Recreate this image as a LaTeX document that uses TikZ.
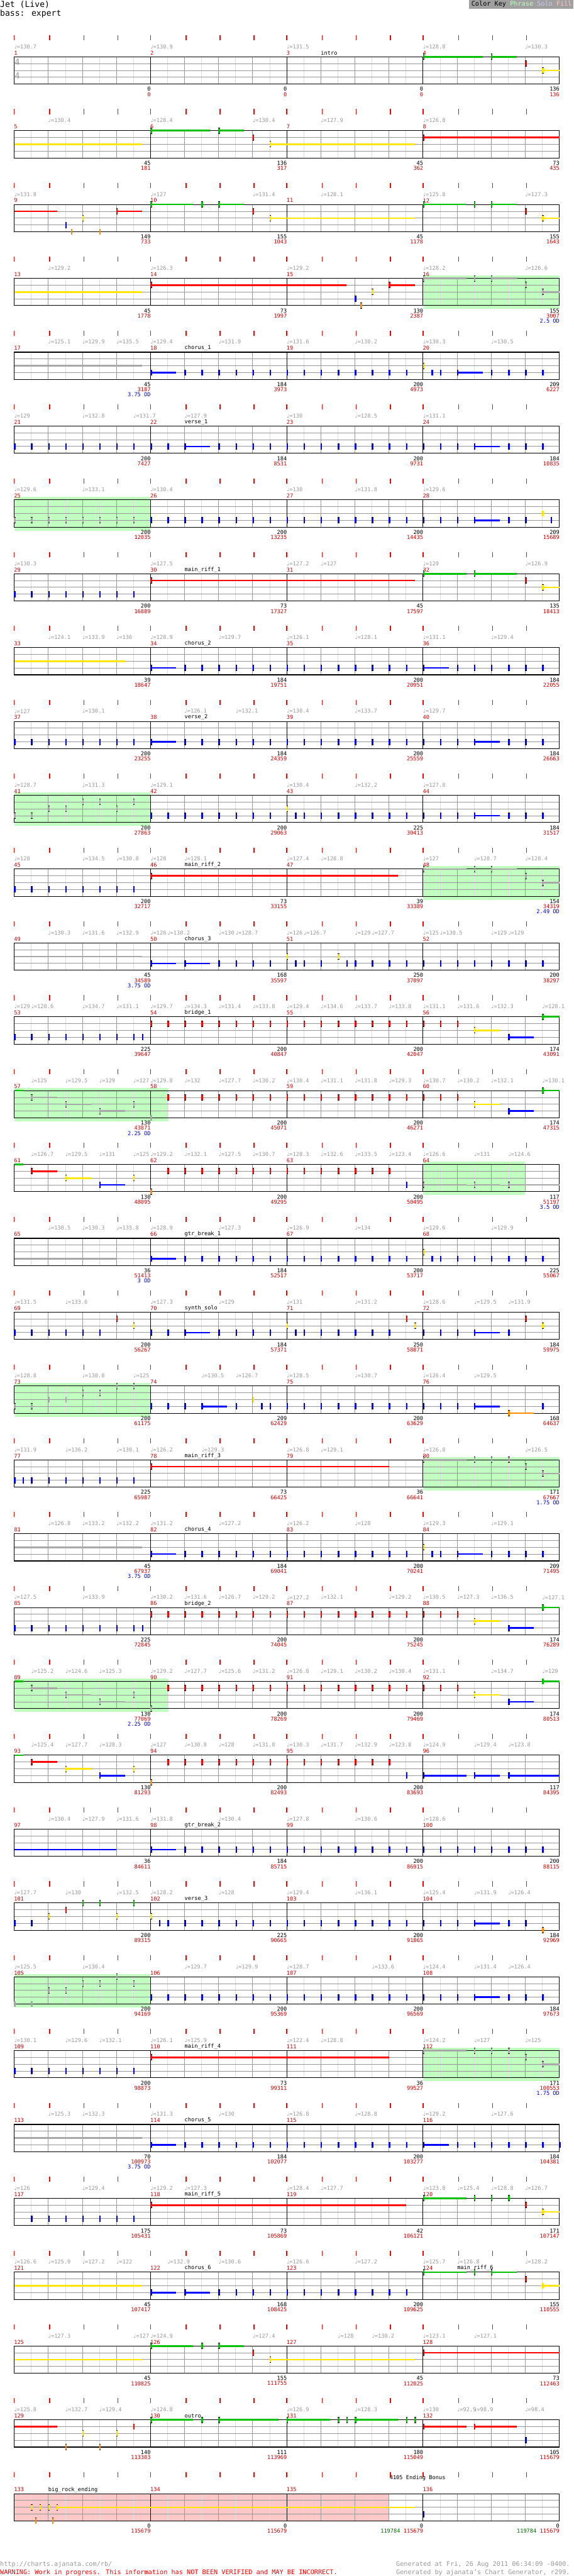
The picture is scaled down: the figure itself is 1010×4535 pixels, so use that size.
\documentclass[tikz,border=0pt]{standalone}
\usepackage{fontspec}
\setmainfont{DejaVu Sans Mono}
\newfontfamily\notefont{DejaVu Sans}

\definecolor{lane1}{HTML}{00C000}
\definecolor{lane2}{HTML}{FF0000}
\definecolor{lane3}{HTML}{FFE600}
\definecolor{lane4}{HTML}{0000FF}
\definecolor{lane5}{HTML}{FF8C00}
\definecolor{ngray}{HTML}{A8A8A8}
\definecolor{phrasegreen}{HTML}{C0FFC0}
\definecolor{solopurple}{HTML}{C8C8FF}
\definecolor{fillpink}{HTML}{FFC8C8}
\definecolor{tickred}{HTML}{FF0000}
\definecolor{numred}{HTML}{CC0000}
\definecolor{tempogray}{HTML}{999999}
\definecolor{gridmid}{HTML}{999999}
\definecolor{gridlight}{HTML}{DDDDDD}
\definecolor{odblue}{HTML}{0000CC}
\definecolor{bonusgreen}{HTML}{006600}
\definecolor{keygray}{HTML}{A0A0A0}

\newcommand\fs[1]{\fontsize{#1}{#1}\selectfont}
\newcommand\qn{{\notefont\char"2669}}

\tikzset{
  beattick/.style={draw=tickred,line width=1.6pt},
  halfline/.style={draw=gridlight,line width=.8pt},
  beatline/.style={draw=gridmid,line width=1pt},
  stringline/.style={draw=gridmid,line width=1pt},
  barline/.style={draw=black,line width=1pt},
  staffbox/.style={draw=black,line width=1.2pt},
  tempo/.style={anchor=west,inner sep=0pt,text=tempogray,font=\fs{9.6}},
  measnum/.style={anchor=west,inner sep=0pt,text=numred,font=\fs{9.6}},
  sectname/.style={anchor=west,inner sep=0pt,font=\fs{9.6}},
  cnt/.style={anchor=east,inner sep=0pt,font=\fs{9.6}},
  score/.style={cnt,text=numred},
  odtxt/.style={cnt,text=odblue},
  timesig/.style={inner sep=0pt,text=tempogray,font=\fs{15}},
  phrasebg/.style={fill=phrasegreen},
  fillbg/.style={fill=fillpink},
}

% one staff row: ticks, grid, measure numbers
\newcommand\staff[1]{%
  \foreach \tb in {0,...,15}{%
    \pgfmathsetmacro\tx{25+60*\tb+(mod(\tb,4)==0?0:2.5)}%
    \draw[beattick] (\tx,62) -- (\tx,71);}%
  \foreach \hb in {0.5,1.5,...,15.5}
    \draw[halfline] ({25+60*\hb},100) -- ({25+60*\hb},148);%
  \foreach \sb in {1,2,3,5,6,7,9,10,11,13,14,15}
    \draw[beatline] ({25+60*\sb},100) -- ({25+60*\sb},148);%
  \foreach \sl in {2,3,4}
    \draw[stringline] (25,{88+12*\sl}) -- (985,{88+12*\sl});%
  \foreach \mb in {1,2,3}
    \draw[barline] ({25+240*\mb},100) -- ({25+240*\mb},148);%
  \draw[staffbox] (25,100) rectangle (985,148);%
  \foreach \mi in {0,...,3}{\pgfmathtruncatemacro\mn{#1+\mi}%
    \node[measnum] (m\mn) at ({24.5+240*\mi},93) {\mn};}%
}
\newcommand\tempos[1]{\foreach \tb/\tv [count=\ti] in {#1}
  \node[tempo] (t\rr-\ti) at ({25+60*\tb},82) {\qn=\tv};}
\newcommand\sect[2]{\node[sectname] (s\rr-#1) at ({25+60*#1},93) {#2};}
\newcommand\counts[1]{\foreach \cv/\sv [count=\ci] in {#1}{%
  \node[cnt] (c\rr-\ci) at ({25.5+240*\ci},157) {\cv};
  \node[score] (p\rr-\ci) at ({25.5+240*\ci},166) {\sv};}}
\newcommand\od[2]{\node[odtxt] (o\rr) at ({25.5+240*#1},175) {#2};}
\newcommand\phrase[2]{\fill[phrasebg] ({25+60*#1},95) rectangle ({25+60*#2},154);}

% notes
\newcommand\gem[3]{%
  \fill[black] ({25+60*#1-0.3},{88+12*#2-5.5}) rectangle ++(2.7,11);
  \fill[fill=#3] ({25+60*#1-0.3},{88+12*#2-4.5}) rectangle ++(2.7,9);}
\newcommand\susbar[4]{\fill[fill=#4] ({25+60*#1},{88+12*#3-1.4}) rectangle ({25+60*#2},{88+12*#3+1.4});}
\newcommand\gems[1]{\foreach \nb/\nl in {#1}{\gem{\nb}{\nl}{lane\nl}}}
\newcommand\ggems[1]{\foreach \nb/\nl in {#1}{\gem{\nb}{\nl}{ngray}}}
\newcommand\sus[1]{\foreach \nb/\nl/\nz in {#1}{\susbar{\nb}{\nz}{\nl}{lane\nl}\gem{\nb}{\nl}{lane\nl}}}
\newcommand\gsus[1]{\foreach \nb/\nl/\nz in {#1}{\susbar{\nb}{\nz}{\nl}{ngray}\gem{\nb}{\nl}{ngray}}}
\newcommand\cont[1]{\foreach \nl/\nz in {#1}{\susbar{0}{\nz}{\nl}{lane\nl}}}
\newcommand\gcont[1]{\foreach \nl/\nz in {#1}{\susbar{0}{\nz}{\nl}{ngray}}}
\newcommand\run[3]{\pgfmathtruncatemacro\nn{round((#2-(#1))*2)}%
  \foreach \ii in {0,...,\nn}{\pgfmathsetmacro\nb{#1+0.5*\ii}\gem{\nb}{#3}{lane#3}}}
\newcommand\grun[3]{\pgfmathtruncatemacro\nn{round((#2-(#1))*2)}%
  \foreach \ii in {0,...,\nn}{\pgfmathsetmacro\nb{#1+0.5*\ii}\gem{\nb}{#3}{ngray}}}

\begin{document}
\begin{tikzpicture}[x=1pt,y=-1pt,line cap=butt]
  \useasboundingbox (0,0) rectangle (1010,4535);

  % header
  \node[anchor=west,inner sep=0pt,font=\fs{14.5}] (title) at (0,8) {Jet (Live)};
  \node[anchor=west,inner sep=0pt,font=\fs{14.5}] (part) at (0,24) {bass: expert};
  \fill[keygray] (826,0) rectangle (1010,15.7);
  \node[anchor=west,inner sep=0pt,font=\fs{11.3}] (key) at (830,7.5)
    {Color Key \textcolor{phrasegreen}{Phrase} \textcolor{solopurple}{Solo} \textcolor{fillpink}{Fill}};

  % row 1-4
  \begin{scope}[shift={(0,0)}]\def\rr{0}
    \staff{1}
    \node[timesig] (ts1) at (30.5,109) {4};
    \node[timesig] (ts2) at (30.5,134) {4};
    \tempos{0/130.7,4/130.9,8/131.5,12/128.8,15/130.3}
    \sect{9}{intro}
    \counts{0/0,0/0,0/0,136/136}
    \sus{12/1/13.75,14/1/14.75,15.5/3/16}
    \gems{15/2}
  \end{scope}

  % row 5-8
  \begin{scope}[shift={(0,130)}]\def\rr{1}
    \staff{5}
    \tempos{1/130.4,4/128.4,7/130.4,9/127.9,12/126.8}
    \counts{45/181,136/317,45/362,73/435}
    \cont{3/3.76}
    \sus{4/1/5.75,6/1/6.75,7.5/3/11.77,12/2/16}
    \gems{7/2}
  \end{scope}

  % row 9-12
  \begin{scope}[shift={(0,260)}]\def\rr{2}
    \staff{9}
    \tempos{0/131.8,4/127,7/131.4,9/128.1,12/125.8,15/127.3}
    \counts{149/733,155/1043,45/1178,155/1643}
    \cont{2/1.26}
    \sus{3/2/3.76,4/1/5.25,6/1/6.75,7.5/3/11.77,12/1/13.27,14/1/14.75,15.5/3/16}
    \gems{1.5/4,1.67/5,2/3,2.5/5,5.5/1,7/2,13.5/1,15/2}
  \end{scope}

  % row 13-16
  \begin{scope}[shift={(0,390)}]\def\rr{3}
    \phrase{12}{16}
    \staff{13}
    \tempos{1/129.2,4/126.3,8/129.2,12/128.2,15/126.6}
    \counts{45/1778,73/1997,130/2387,155/3007}
    \od{4}{2.5 OD}
    \cont{3/3.76}
    \sus{4/2/9.76,11/2/11.77}
    \gems{10/4,10.17/5,10.5/3}
    \gsus{12/1/13.27,14/1/14.75,15.5/3/16}
    \ggems{13.5/1,15/2}
  \end{scope}

  % row 17-20
  \begin{scope}[shift={(0,520)}]\def\rr{4}
    \staff{17}
    \tempos{1/125.1,2/129.9,3/135.5,4/129.4,6/131.9,8/131.6,10/130.2,12/130.3,14/130.5}
    \sect{5}{chorus\_1}
    \counts{45/3187,184/3973,200/4973,209/6227}
    \od{1}{3.75 OD}
    \gcont{3/3.76}
    \sus{4/4/4.75,13/4/13.75}
    \run{5}{11.5}{4}\run{14}{15.5}{4}
    \gems{12/3,12.25/4,12.5/4}
  \end{scope}

  % row 21-24
  \begin{scope}[shift={(0,650)}]\def\rr{5}
    \staff{21}
    \tempos{0/129,2/132.8,3.5/131.7,5/127.9,8/130,10/128.5,12/131.1}
    \sect{5}{verse\_1}
    \counts{200/7427,184/8531,200/9731,184/10835}
    \run{0}{4.5}{4}\run{6}{13}{4}\run{14.5}{15.5}{4}
    \sus{5/4/5.75,13.5/4/14.25}
  \end{scope}

  % row 25-28
  \begin{scope}[shift={(0,780)}]\def\rr{6}
    \phrase{0}{4}
    \staff{25}
    \tempos{0/129.6,2/133.1,4/130.4,8/130,10/131.8,12/129.6}
    \counts{200/12035,200/13235,200/14435,209/15689}
    \grun{0}{3.5}{4}
    \run{4}{13}{4}
    \sus{13.5/4/14.25}
    \gems{14.5/4,15/4,15.5/3,15.75/4}
  \end{scope}

  % row 29-32
  \begin{scope}[shift={(0,910)}]\def\rr{7}
    \staff{29}
    \tempos{0/130.3,4/127.5,8/127.2,9/127,12/129,15/126.9}
    \sect{5}{main\_riff\_1}
    \counts{200/16889,73/17327,45/17597,135/18413}
    \run{0}{3.5}{4}
    \sus{4/2/11.77,12/1/13.27,13.5/1/14.75,15.5/3/16}
    \gems{15/2}
  \end{scope}

  % row 33-36
  \begin{scope}[shift={(0,1040)}]\def\rr{8}
    \staff{33}
    \tempos{1/124.1,2/133.9,3/136,4/128.9,6/129.7,8/126.1,10/128.1,12/131.1,14/129.4}
    \sect{5}{chorus\_2}
    \counts{39/18647,184/19751,200/20951,184/22055}
    \cont{3/3.27}
    \sus{4/4/4.75,12/4/12.75}
    \run{5}{11.5}{4}\run{13}{15.5}{4}
  \end{scope}

  % row 37-40
  \begin{scope}[shift={(0,1170)}]\def\rr{9}
    \staff{37}
    \tempos{0/127,2/130.1,5/126.1,6.5/132.1,8/130.4,10/133.7,12/129.7}
    \sect{5}{verse\_2}
    \counts{200/23255,184/24359,200/25559,184/26663}
    \run{0}{3.5}{4}\run{5}{13}{4}\run{14.5}{15.5}{4}
    \sus{4/4/4.75,13.5/4/14.25}
  \end{scope}

  % row 41-44
  \begin{scope}[shift={(0,1300)}]\def\rr{10}
    \phrase{0}{4}
    \staff{41}
    \tempos{0/128.7,2/131.3,4/129.1,8/130.4,10/132.2,12/127.8}
    \counts{200/27863,200/29063,225/30413,184/31517}
    \ggems{0/4,0.5/4,1/3,1.5/3,2/2,2.5/2,3/3,3.5/2}
    \run{4}{7.5}{4}\run{8.5}{13}{4}\run{14.5}{15.5}{4}
    \gems{8/3,8.25/4}
    \sus{13.5/4/14.25}
  \end{scope}

  % row 45-48
  \begin{scope}[shift={(0,1430)}]\def\rr{11}
    \phrase{12}{16}
    \staff{45}
    \tempos{0/128,2/134.5,3/130.8,4/128,5/128.1,8/127.4,9/128.8,12/127,13.5/128.7,15/128.4}
    \sect{5}{main\_riff\_2}
    \counts{200/32717,73/33155,39/33389,154/34319}
    \od{4}{2.49 OD}
    \run{0}{3.5}{4}
    \sus{4/2/11.27}
    \gsus{12/1/13.27,14/1/14.75,15.5/3/16}
    \ggems{13.5/1,15/2}
  \end{scope}

  % row 49-52
  \begin{scope}[shift={(0,1560)}]\def\rr{12}
    \staff{49}
    \tempos{1/130.3,2/131.6,3/132.9,4/126,4.5/130.2,6/130,6.5/128.7,8/126,8.5/126.7,10/129,10.5/127.7,12/125,12.5/130.5,14/129,14.5/129}
    \sect{5}{chorus\_3}
    \counts{45/34589,168/35597,250/37097,200/38297}
    \od{1}{3.75 OD}
    \gcont{3/3.76}
    \sus{4/4/4.75,5/4/5.75}
    \run{6}{7.5}{4}\run{10}{15.5}{4}
    \gems{8/3,8.25/4,8.5/4,9/4,9.5/3,9.75/4}
  \end{scope}

  % row 53-56
  \begin{scope}[shift={(0,1690)}]\def\rr{13}
    \staff{53}
    \tempos{0/129,0.5/128.6,2/134.7,3/131.1,4/129.7,5/134.3,6/131.4,7/133.8,8/129.4,9/134.6,10/133.7,11/133.8,12/131.1,13/131.6,14/132.3,15.5/128.1}
    \sect{5}{bridge\_1}
    \counts{225/39647,200/40847,200/42047,174/43091}
    \run{0}{3.5}{4}\gems{3.75/4}
    \run{4}{13}{2}
    \sus{13.5/3/14.25,14.5/4/15.25,15.5/1/16}
  \end{scope}

  % row 57-60
  \begin{scope}[shift={(0,1820)}]\def\rr{14}
    \phrase{0}{4.52}
    \staff{57}
    \tempos{0.5/125,1.5/129.5,2.5/129,3.5/127,4/129.8,5/132,6/127.7,7/130.2,8/130.4,9/131.1,10/131.8,11/129.3,12/130.7,13/130.2,14/132.1,15.5/130.1}
    \counts{130/43871,200/45071,200/46271,174/47315}
    \od{1}{2.25 OD}
    \cont{1/0.27}
    \gsus{0.5/2/1.26,1.5/3/2.25,2.5/4/3.25}
    \ggems{3.5/3,4/5}
    \run{4.5}{13}{2}
    \sus{13.5/3/14.25,14.5/4/15.25,15.5/1/16}
  \end{scope}

  % row 61-64
  \begin{scope}[shift={(0,1950)}]\def\rr{15}
    \phrase{12}{15}
    \staff{61}
    \tempos{0.5/126.7,1.5/129.5,2.5/131,3.5/125,4/129.2,5/132.1,6/127.5,7/130.7,8/128.3,9/132.6,10/133.5,11/123.4,12/126.6,13.5/131,14.5/124.6}
    \counts{130/48095,200/49295,200/50495,117/51197}
    \od{4}{3.5 OD}
    \cont{1/0.27}
    \sus{0.5/2/1.26,1.5/3/2.25,2.5/4/3.25}
    \gems{3.5/3,4/5,11.5/4}
    \run{4.5}{11}{2}
    \gsus{12/4/13.27,13.5/4/14.25,14.5/4/16}
  \end{scope}

  % row 65-68
  \begin{scope}[shift={(0,2080)}]\def\rr{16}
    \staff{65}
    \tempos{1/130.5,2/130.3,3/135.8,4/128.9,6/127.3,8/126.9,10/134,12/129.6,14/129.9}
    \sect{5}{gtr\_break\_1}
    \counts{36/51413,184/52517,200/53717,225/55067}
    \od{1}{3 OD}
    \gcont{4/3}
    \sus{4/4/4.75}
    \run{5}{11.5}{4}\run{12.5}{15.5}{4}
    \gems{12/3,12.25/4}
  \end{scope}

  % row 69-72
  \begin{scope}[shift={(0,2210)}]\def\rr{17}
    \staff{69}
    \tempos{0/131.5,1.5/133.6,4/127.3,6/129,8/131,10/131.2,12/128.6,13.5/129.5,14.5/131.9}
    \sect{5}{synth\_solo}
    \counts{200/56267,184/57371,250/58871,184/59975}
    \run{0}{2.5}{4}\run{4}{4.5}{4}\run{6}{7.5}{4}\run{8.5}{11}{4}\run{12}{13}{4}
    \sus{5/4/5.75,13.5/4/14.25}
    \gems{3/2,3.5/3,8/3,8.25/4,11.5/2,11.75/3,14.5/4,15/2,15.5/3}
  \end{scope}

  % row 73-76
  \begin{scope}[shift={(0,2340)}]\def\rr{18}
    \phrase{0}{4}
    \staff{73}
    \tempos{0/128.8,2/130.8,3.5/125,5.5/130.5,6.5/126.7,8/128.5,10/130.7,12/126.4,13.5/129.5}
    \counts{200/61175,209/62429,200/63629,168/64637}
    \ggems{0/4,0.5/4,1/3,1.5/3,2/2,2.5/2,3/1,3.5/1}
    \run{4}{5}{4}\run{7.5}{13}{4}
    \sus{5.5/4/6.25,13.5/4/14.25,14.5/5/15.25}
    \gems{6.5/4,7/3,7.25/4,15.5/4}
  \end{scope}

  % row 77-80
  \begin{scope}[shift={(0,2470)}]\def\rr{19}
    \phrase{12}{16}
    \staff{77}
    \tempos{0/131.9,1.5/136.2,3/130.1,4/126.2,5.5/129.3,8/126.8,9/129.1,12/126.8,15/126.5}
    \sect{5}{main\_riff\_3}
    \counts{225/65987,73/66425,36/66641,171/67667}
    \od{4}{1.75 OD}
    \gems{0/4,0.25/4}\run{0.5}{3.5}{4}
    \sus{4/2/11}
    \gsus{12/1/13.27,15.5/3/16}
    \ggems{13.5/1,14/1,14.5/1,15/2}
  \end{scope}

  % row 81-84
  \begin{scope}[shift={(0,2600)}]\def\rr{20}
    \staff{81}
    \tempos{1/126.8,2/133.2,3/132.2,4/131.2,6/127.2,8/126.2,10/128,12/129.3,14/129.1}
    \sect{5}{chorus\_4}
    \counts{45/67937,184/69041,200/70241,209/71495}
    \od{1}{3.75 OD}
    \gcont{3/3.76}
    \sus{4/4/4.75,13/4/13.75}
    \run{5}{11.5}{4}\run{14}{15.5}{4}
    \gems{12/3,12.25/4,12.5/4}
  \end{scope}

  % row 85-88
  \begin{scope}[shift={(0,2730)}]\def\rr{21}
    \staff{85}
    \tempos{0/127.5,2/133.9,4/130.2,5/131.6,6/126.7,7/129.2,8/127.2,9/132.1,11/129.2,12/130.5,13/127.3,14/136.5,15.5/127.1}
    \sect{5}{bridge\_2}
    \counts{225/72845,200/74045,200/75245,174/76289}
    \run{0}{3.5}{4}\gems{3.75/4}
    \run{4}{13}{2}
    \sus{13.5/3/14.25,14.5/4/15.25,15.5/1/16}
  \end{scope}

  % row 89-92
  \begin{scope}[shift={(0,2860)}]\def\rr{22}
    \phrase{0}{4.52}
    \staff{89}
    \tempos{0.5/125.2,1.5/124.6,2.5/125.3,4/129.2,5/127.7,6/125.6,7/131.2,8/126.8,9/129.1,10/130.2,11/130.4,12/131.1,14/134.7,15.5/129}
    \counts{130/77069,200/78269,200/79469,174/80513}
    \od{1}{2.25 OD}
    \cont{1/0.27}
    \gsus{0.5/2/1.26,1.5/3/2.25,2.5/4/3.25}
    \ggems{3.5/3,4/5}
    \run{4.5}{13}{2}
    \sus{13.5/3/14.25,14.5/4/15.25,15.5/1/16}
  \end{scope}

  % row 93-96
  \begin{scope}[shift={(0,2990)}]\def\rr{23}
    \staff{93}
    \tempos{0.5/125.4,1.5/127.7,2.5/128.3,4/127,5/130.8,6/128,7/131.8,8/130.3,9/131.7,10/132.9,11/123.8,12/124.9,13.5/129.4,14.5/123.8}
    \counts{130/81293,200/82493,200/83693,117/84395}
    \cont{1/0.27}
    \sus{0.5/2/1.26,1.5/3/2.25,2.5/4/3.25,12/4/13.27,13.5/4/14.25,14.5/4/16}
    \gems{3.5/3,4/5,11.5/4}
    \run{4.5}{11}{2}
  \end{scope}

  % row 97-100
  \begin{scope}[shift={(0,3120)}]\def\rr{24}
    \staff{97}
    \tempos{1/130.4,2/127.9,3/131.6,4/131.8,6/130.4,8/127.8,10/130.6,12/128.6}
    \sect{5}{gtr\_break\_2}
    \counts{36/84611,184/85715,200/86915,200/88115}
    \cont{4/3}
    \sus{4/4/4.75}
    \run{5}{15.5}{4}
  \end{scope}

  % row 101-104
  \begin{scope}[shift={(0,3250)}]\def\rr{25}
    \staff{101}
    \tempos{0/127.7,1.5/130,3/132.5,4/128.2,6/128,8/129.4,10/136.1,12/125.4,13.5/131.9,14.5/126.4}
    \sect{5}{verse\_3}
    \counts{200/89315,225/90665,200/91865,184/92969}
    \gems{0/4,0.5/4,1/3,1.5/2,2/1,2.5/1,3/3,3.5/1,4/3,4.25/4,14.5/4,15/4,15.5/5}
    \run{4.5}{13}{4}
    \sus{13.5/4/14.25}
  \end{scope}

  % row 105-108
  \begin{scope}[shift={(0,3380)}]\def\rr{26}
    \phrase{0}{4}
    \staff{105}
    \tempos{0/125.5,2/130.4,5/129.7,6.5/129.9,8/128.7,10.5/133.6,12/124.4,13.5/131.4,14.5/126.4}
    \counts{200/94169,200/95369,200/96569,184/97673}
    \ggems{0/5,0.5/5,1/3,1.5/3,2/2,2.5/2,3/1,3.5/2}
    \run{4}{13}{4}\run{14.5}{15.5}{4}
    \sus{13.5/4/14.25}
  \end{scope}

  % row 109-112
  \begin{scope}[shift={(0,3510)}]\def\rr{27}
    \phrase{12}{16}
    \staff{109}
    \tempos{0/130.1,1.5/129.6,2.5/132.1,4/126.1,5/125.9,8/122.4,9/128.8,12/124.2,13.5/127,15/125}
    \sect{5}{main\_riff\_4}
    \counts{200/98873,73/99311,36/99527,171/100553}
    \od{4}{1.75 OD}
    \run{0}{3.5}{4}
    \sus{4/2/11}
    \gsus{12/1/13.27,15.5/3/16}
    \ggems{13.5/1,14/1,14.5/1,15/2}
  \end{scope}

  % row 113-116
  \begin{scope}[shift={(0,3640)}]\def\rr{28}
    \staff{113}
    \tempos{1/125.3,2/132.3,4/131.3,6/130,8/126.8,10/128.8,12/129.2,14/127.6}
    \sect{5}{chorus\_5}
    \counts{70/100973,184/102077,200/103277,184/104381}
    \od{1}{3.75 OD}
    \gcont{3/3.76}
    \sus{4/4/4.75,12/4/12.75}
    \run{5}{11.5}{4}\run{13}{16}{4}
  \end{scope}

  % row 117-120
  \begin{scope}[shift={(0,3770)}]\def\rr{29}
    \staff{117}
    \tempos{0/126,2/129.4,4/129.2,5/127.3,8/128.4,9/127.7,12/123.8,13/125.4,14/128.8,15/126.7}
    \sect{5}{main\_riff\_5}
    \counts{175/105431,73/105869,42/106121,171/107147}
    \run{0.5}{3.5}{4}
    \sus{4/2/11.5,12/1/13.27,15.5/3/16}
    \gems{13.5/1,14/1,14.5/1,15/2}
  \end{scope}

  % row 121-124
  \begin{scope}[shift={(0,3900)}]\def\rr{30}
    \staff{121}
    \tempos{0/126.6,1/125.9,2/127.2,3/122,4.5/132.9,6/130.6,8/126.6,10/127.2,12/125.7,13/126.8,15/128.2}
    \sect{5}{chorus\_6}
    \sect{13}{main\_riff\_6}
    \counts{45/107417,168/108425,200/109625,155/110555}
    \cont{3/3.76}
    \sus{4/4/4.75,5/4/5.75,12/1/13.27,14/1/14.75,15.5/3/16}
    \run{6}{11.5}{4}
    \gems{13.5/1,15/2}
  \end{scope}

  % row 125-128
  \begin{scope}[shift={(0,4030)}]\def\rr{31}
    \staff{125}
    \tempos{1/127.3,3.5/127,4/124.9,7/127.4,9.5/128,10.5/130.2,12/123.1,13.5/127.1}
    \counts{45/110825,155/111755,45/112025,73/112463}
    \cont{3/3.76}
    \sus{4/1/5.25,6/1/6.75,7.5/3/11.77,12/2/16}
    \gems{5.5/1,7/2}
  \end{scope}

  % row 129-132
  \begin{scope}[shift={(0,4160)}]\def\rr{32}
    \staff{129}
    \tempos{0/125.8,1.5/132.7,2.5/129.4,4/124.8,8/126.9,10/128.3,12/130,13/92.9,13.5/98.9,15/98.4}
    \sect{5}{outro}
    \counts{140/113303,111/113969,180/115049,105/115679}
    \cont{2/1.26}
    \sus{4/1/5.25,6/1/7.75,8/1/9.27,10/1/11.27,12/2/13.27,13.5/2/14.75}
    \gems{1.5/5,2/3,2.5/5,3/3,3.5/2,5.5/1,9.5/1,9.75/1,11.5/1,11.75/1,15/4}
  \end{scope}

  % row 133-136
  \begin{scope}[shift={(0,4290)}]\def\rr{33}
    \fill[fillbg] (25,100) rectangle (685,148);
    \staff{133}
    \sect{1}{big\_rock\_ending}
    \node[sectname] (bonus) at (686,72) {4105 Ending Bonus};
    \foreach \ci in {1,...,4}
      \node[cnt] (c\rr-\ci) at ({25.5+240*\ci},157) {0};
    \node[score] (p\rr-1) at (265.5,166) {115679};
    \node[score] (p\rr-2) at (505.5,166) {115679};
    \node[score] (p\rr-3) at (745.5,166) {\textcolor{bonusgreen}{119784} 115679};
    \node[score] (p\rr-4) at (985.5,166) {\textcolor{bonusgreen}{119784} 115679};
    \sus{1.25/3/11.77}
    \gems{0.5/3,0.62/5,0.75/3,1/3,1.12/5,12/4}
  \end{scope}

  % footer
  \node[anchor=west,inner sep=0pt,text=tempogray,font=\fs{11.3}] (url) at (0,4515)
    {http://charts.ajanata.com/rb/};
  \node[anchor=west,inner sep=0pt,text=tickred,font=\fs{11.3}] (warn) at (0,4529)
    {WARNING: Work in progress. This information has NOT BEEN VERIFIED and MAY BE INCORRECT.};
  \node[anchor=east,inner sep=0pt,text=tempogray,font=\fs{11.3}] (gen1) at (1004,4515)
    {Generated at Fri, 26 Aug 2011 06:34:09 -0400.};
  \node[anchor=east,inner sep=0pt,text=tempogray,font=\fs{11.3}] (gen2) at (1004,4529)
    {Generated by ajanata's Chart Generator, r299.};
\end{tikzpicture}
\end{document}
